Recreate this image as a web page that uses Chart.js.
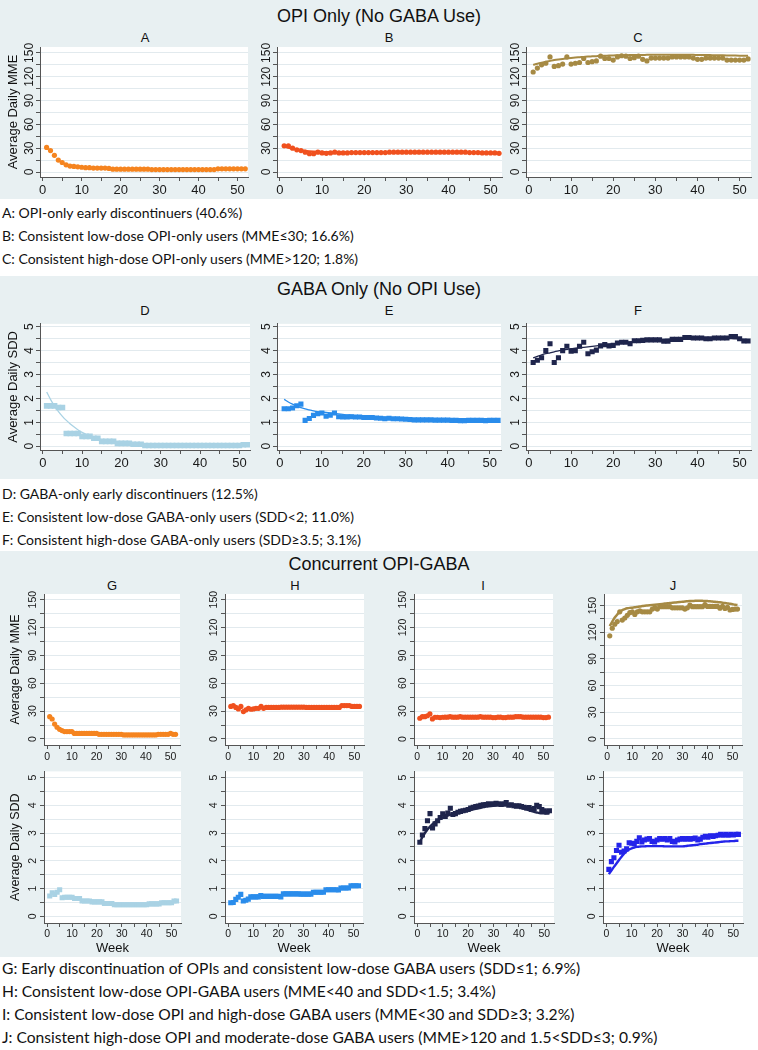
<!DOCTYPE html>
<html><head><meta charset="utf-8">
<script src="https://cdn.jsdelivr.net/npm/chart.js@4.4.1/dist/chart.umd.min.js"></script>
<style>
html,body{margin:0;padding:0}
body{width:758px;height:1050px;position:relative;background:#fff;overflow:hidden;font-family:"Liberation Sans",Arial,sans-serif;color:#111}
.sec{position:absolute;left:0;width:758px;background:#e8f0f2}
.stitle{position:absolute;left:0;width:758px;text-align:center;font-size:18px;line-height:20px;transform:translateY(-50%)}
.plab{position:absolute;font-size:13px;line-height:14px;transform:translate(-50%,-50%)}
.cap{position:absolute;left:2px;font-family:Lato,sans-serif;font-size:14px;line-height:18px;white-space:nowrap;transform:translateY(-50%)}
.cap.big{font-size:15.6px}
canvas{position:absolute}
</style></head><body>
<div class="sec" style="top:0;height:199px"></div>
<div class="sec" style="top:276px;height:203px"></div>
<div class="sec" style="top:551px;height:406px"></div>
<div class="stitle" style="top:16px">OPI Only (No GABA Use)</div>
<div class="stitle" style="top:289px">GABA Only (No OPI Use)</div>
<div class="stitle" style="top:564px">Concurrent OPI-GABA</div>
<div class="plab" style="left:145px;top:38px">A</div>
<div class="plab" style="left:389px;top:38px">B</div>
<div class="plab" style="left:638px;top:38px">C</div>
<div class="plab" style="left:145px;top:311px">D</div>
<div class="plab" style="left:389px;top:311px">E</div>
<div class="plab" style="left:638px;top:311px">F</div>
<div class="plab" style="left:112px;top:586px">G</div>
<div class="plab" style="left:295px;top:586px">H</div>
<div class="plab" style="left:483px;top:586px">I</div>
<div class="plab" style="left:673px;top:586px">J</div>
<div class="cap" style="top:213px">A: OPI-only early discontinuers (40.6%)</div>
<div class="cap" style="top:236px">B: Consistent low-dose OPI-only users (MME≤30; 16.6%)</div>
<div class="cap" style="top:259px">C: Consistent high-dose OPI-only users (MME&gt;120; 1.8%)</div>
<div class="cap" style="top:494px">D: GABA-only early discontinuers (12.5%)</div>
<div class="cap" style="top:517px">E: Consistent low-dose GABA-only users (SDD&lt;2; 11.0%)</div>
<div class="cap" style="top:540px">F: Consistent high-dose GABA-only users (SDD≥3.5; 3.1%)</div>
<div class="cap big" style="top:968px">G: Early discontinuation of OPIs and consistent low-dose GABA users (SDD≤1; 6.9%)</div>
<div class="cap big" style="top:991px">H: Consistent low-dose OPI-GABA users (MME&lt;40 and SDD&lt;1.5; 3.4%)</div>
<div class="cap big" style="top:1014px">I: Consistent low-dose OPI and high-dose GABA users (MME&lt;30 and SDD≥3; 3.2%)</div>
<div class="cap big" style="top:1037px">J: Consistent high-dose OPI and moderate-dose GABA users (MME&gt;120 and 1.5&lt;SDD≤3; 0.9%)</div>
<script>
// ---------- data ----------
const weeks = [1,2,3,4,5,6,7,8,9,10,11,12,13,14,15,16,17,18,19,20,21,22,23,24,25,26,27,28,29,30,31,32,33,34,35,36,37,38,39,40,41,42,43,44,45,46,47,48,49,50,51,52];
const weekTickLabels = [0,10,20,30,40,50];
const mmeTickLabels = [0,30,60,90,120,150];
const sddTickLabels = [0,1,2,3,4,5];

const aMme = [31,27,21,15,12,9,7.5,7,6.5,6, 5.5,5.5,5,5,5,5,4.5,3.5,3.5,3.5, 3.5,3.5,3.5,3.5,3.5,3.5,3.5,3,3,3, 3,3,3,3,3,3,3,3,3,3, 3,3,3,3,4,4,4,4,4,4, 4,4];
const bMme = [33,33,30,28,27,25,23,23,25,24, 23.5,24,25,24,24,24,24.5,24.5,24.5,24.5, 24.5,24.5,24.5,24.5,24.5,25,25,25,25,25, 25,25,25,25,25,25,25,25,25,25, 25,25,25,25,24.5,24.5,24.5,24,24,24, 24,23.5];
const bFit = [32,30.5,29.3,28.3,27.5,26.8,26.3,25.9,25.6,25.4, 25.2,25.1,25,25,25,25,25,25,25,25, 25,25,25,25,25,25,25,25,25,25, 25,25,25,25,25,25,25,25,25,25, 25,25,25,25,24.9,24.8,24.7,24.6,24.5,24.4, 24.3,24.2];
const cMme = [126,131,135,137,145,133,134,136,145,136, 137,138,143,138,139,140,146,143,143,141, 145,146.5,146,143,144,146,142,140,143.5,143.5, 143.5,143.5,143.5,145,145,145,145,145,143.5,142, 142,143.5,143.5,143.5,143.5,143.5,141,141,141,141, 141,142.5];
const cFit = [135,136.5,137.8,139,140,141,141.8,142.5,143.1,143.7, 144.2,144.6,145,145.4,145.7,146,146.3,146.5,146.7,146.9, 147,147.1,147.2,147.3,147.4,147.5,147.5,147.6,147.6,147.6, 147.7,147.7,147.7,147.7,147.7,147.7,147.7,147.6,147.6,147.5, 147.5,147.4,147.3,147.2,147.1,147,146.9,146.8,146.7,146.6, 146.5,146.4];
const dSdd = [1.69,1.69,1.69,1.62,1.62,0.53,0.53,0.53,0.53,0.41, 0.41,0.41,0.33,0.33,0.2,0.2,0.2,0.2,0.12,0.12, 0.12,0.12,0.08,0.08,0.08,0.03,0.03,0.03,0.03,0.03, 0.03,0.03,0.03,0.03,0.03,0.03,0.03,0.03,0.03,0.03, 0.03,0.03,0.03,0.03,0.03,0.03,0.03,0.03,0.03,0.03, 0.06,0.06];
const dFit = [2.27,1.95,1.68,1.45,1.25,1.08,0.93,0.8,0.68,0.58, 0.5,0.43,0.37,0.32,0.27,0.23,0.2,0.17,0.15,0.13, 0.11,0.1,0.08,0.07,0.06,0.05,0.05,0.04,0.04,0.04, 0.04,0.04,0.04,0.04,0.04,0.04,0.04,0.04,0.04,0.04, 0.04,0.04,0.04,0.04,0.04,0.04,0.04,0.04,0.04,0.04, 0.04,0.04];
const eSdd = [1.57,1.57,1.6,1.69,1.76,1.08,1.16,1.29,1.36,1.39, 1.25,1.3,1.39,1.23,1.22,1.22,1.23,1.22,1.22,1.2, 1.2,1.2,1.18,1.17,1.15,1.17,1.15,1.15,1.14,1.13, 1.12,1.1,1.1,1.1,1.1,1.1,1.09,1.09,1.09,1.09, 1.08,1.08,1.07,1.07,1.08,1.08,1.08,1.08,1.07,1.08, 1.08,1.08];
const eFit = [1.96,1.85,1.76,1.68,1.61,1.56,1.52,1.48,1.45,1.43, 1.41,1.39,1.37,1.35,1.33,1.31,1.3,1.28,1.27,1.26, 1.25,1.24,1.23,1.22,1.21,1.2,1.19,1.18,1.17,1.16, 1.15,1.15,1.14,1.13,1.13,1.12,1.12,1.11,1.11,1.1, 1.1,1.1,1.09,1.09,1.09,1.09,1.08,1.08,1.08,1.08, 1.08,1.08];
const fSdd = [3.5,3.6,3.7,4.0,4.29,3.5,3.7,4.0,4.18,3.98, 4.0,4.18,4.35,3.87,3.95,4.02,4.2,4.25,4.2,4.22, 4.32,4.35,4.35,4.29,4.41,4.41,4.43,4.45,4.45,4.45, 4.45,4.39,4.39,4.47,4.47,4.47,4.55,4.55,4.53,4.53, 4.53,4.5,4.5,4.53,4.53,4.53,4.53,4.59,4.59,4.5, 4.4,4.4];
const fFit = [3.7,3.76,3.82,3.87,3.91,3.95,3.99,4.02,4.05,4.08, 4.1,4.12,4.14,4.16,4.18,4.2,4.22,4.24,4.26,4.28, 4.3,4.32,4.34,4.36,4.38,4.4,4.42,4.43,4.44,4.45, 4.46,4.47,4.48,4.49,4.5,4.5,4.51,4.51,4.52,4.52, 4.52,4.52,4.52,4.52,4.51,4.51,4.5,4.5,4.49,4.48, 4.47,4.46];
const gMme = [24,21.5,16,12.6,10.4,9,8,8,8,8, 6,6,6,6,6,6,6,6,6,6, 5,5,5,5,5,5,5,5,5,5, 4.3,4.3,4.3,4.3,4.3,4.3,4.3,4.3,4.3,4.3, 4.3,4.3,4.3,4.3,5,5,5,5,5,6, 5,5];
const hMme = [35,36,34,32.4,35,29.5,31.3,33,32,32.4, 33,33,35,33,34,34,34,34,34,34, 34.2,34.2,34.2,34.2,34.2,34.2,34.2,34.2,34.2,34.2, 34,34,34,34,34,34,34,34,34,34, 34,34,34,34,36,36,36,36,35,35, 35,35];
const iMme = [22.3,24,24,25,27,21.6,23.4,23.4,23,23.4, 23.5,23.5,24,23.5,23.5,23.5,24,23.5,23.5,23.5, 23.5,23.5,23.5,23.5,24,23.5,23.5,23.5,23.5,23, 23,23.5,23.5,23,23,23.5,23.5,23.5,24,24, 24,23.5,23.5,23.5,23.5,23.5,23.5,23.5,23.5,23, 23,23.5];
const jMme = [116,124.5,129,132,143,133.7,136,139,142,143, 140,143,144,143,143,143,143,146,147.5,146, 148.7,148.7,148.7,148.7,148.7,147.5,147.5,147.5,147.5,147.5, 146,147.5,150.5,148.7,148.7,148.7,148.7,148.7,151,149, 149,149,149,149,147,149,146.8,148,145,145.7, 146,146];
const jMmeFit = [127,132,136.5,140,143,144.8,146,146.9,147.4,147.6, 148,148.5,149,149.4,149.8,150.1,150.4,150.7,151,151.3, 151.6,151.9,152.2,152.5,152.8,153.1,153.4,153.7,154,154.3, 154.6,154.8,155,155.2,155.3,155.4,155.4,155.3,155.2,155, 154.8,154.5,154.2,153.9,153.6,153.2,152.8,152.4,152,151.5, 151,150.6];
const gSdd = [0.73,0.85,0.79,0.87,0.96,0.67,0.69,0.69,0.69,0.69, 0.64,0.64,0.64,0.55,0.55,0.55,0.55,0.52,0.52,0.52, 0.52,0.52,0.46,0.46,0.46,0.46,0.42,0.42,0.42,0.42, 0.42,0.42,0.42,0.42,0.42,0.42,0.42,0.42,0.42,0.42, 0.45,0.45,0.45,0.45,0.45,0.49,0.49,0.49,0.49,0.49, 0.55,0.55];
const hSdd = [0.49,0.5,0.61,0.69,0.79,0.55,0.58,0.62,0.7,0.7, 0.7,0.7,0.75,0.72,0.72,0.72,0.72,0.72,0.72,0.72, 0.7,0.81,0.81,0.81,0.81,0.81,0.81,0.81,0.8,0.8, 0.8,0.8,0.8,0.87,0.87,0.87,0.87,0.87,0.96,0.96, 0.96,0.96,0.96,0.95,1.02,1.02,1.02,1.02,1.1,1.1, 1.1,1.1];
const iSdd = [2.67,2.93,3.16,3.44,3.7,3.18,3.33,3.44,3.56,3.69, 3.6,3.72,3.89,3.67,3.7,3.75,3.78,3.8,3.82,3.85, 3.9,3.93,3.95,3.97,4.0,4.02,4.03,4.05,4.03,4.05, 4.07,4.05,4.03,4.05,4.1,4.0,4.02,3.98,3.97,3.98, 3.95,3.93,3.9,3.92,3.85,3.88,4.0,3.95,3.85,3.8, 3.75,3.8];
const iSddFit = [2.67,2.85,3.0,3.13,3.23,3.32,3.4,3.46,3.52,3.56, 3.6,3.63,3.66,3.69,3.71,3.73,3.75,3.77,3.79,3.81, 3.83,3.85,3.87,3.89,3.91,3.93,3.95,3.96,3.97,3.98, 3.99,4.0,4.0,4.0,4.0,3.99,3.98,3.97,3.95,3.93, 3.91,3.88,3.85,3.82,3.79,3.76,3.74,3.72,3.71,3.71, 3.72,3.73];
const jSdd = [1.69,1.97,2.11,2.37,2.56,2.31,2.35,2.43,2.65,2.63, 2.62,2.7,2.83,2.68,2.75,2.78,2.8,2.7,2.68,2.75, 2.8,2.78,2.8,2.75,2.8,2.7,2.68,2.75,2.78,2.8, 2.78,2.8,2.78,2.8,2.82,2.75,2.78,2.85,2.88,2.85, 2.9,2.88,2.9,2.92,2.95,2.92,2.95,2.92,2.95,2.93, 2.95,2.95];
const jSddFit = [1.52,1.65,1.78,1.9,2.03,2.15,2.26,2.35,2.41,2.45, 2.48,2.5,2.51,2.52,2.52,2.53,2.53,2.53,2.53,2.53, 2.53,2.53,2.52,2.52,2.52,2.52,2.52,2.52,2.52,2.52, 2.53,2.54,2.55,2.56,2.57,2.58,2.6,2.61,2.62,2.63, 2.64,2.65,2.66,2.67,2.68,2.69,2.7,2.7,2.71,2.71, 2.72,2.72];

// ---------- styles ----------
const ORANGE = '#f5841f', RED = '#f0501e', KHAKI = '#a68a44', LBLUE = '#a9d2e4', BLUE = '#2a8ceb', NAVY = '#1f254c', BBLUE = '#2424ea';
const FONT = '"Liberation Sans", Arial, sans-serif';
const mctx = document.createElement('canvas').getContext('2d');

const plotBg = {id:'plotBg', beforeDraw(chart){const {ctx, chartArea:a} = chart; ctx.save(); ctx.fillStyle = '#fff'; ctx.fillRect(a.left, a.top, a.right - a.left, a.bottom - a.top); ctx.restore();}};

function xy(arr){ return weeks.map((w, i) => ({x: w, y: arr[i]})); }

function panel(p) {
  const padTop = 6, padRight = 5;
  const w = p.yw + (p.pr - p.pl) + padRight;
  const h = padTop + (p.pb - p.pt) + p.xh;
  const c = document.createElement('canvas');
  c.width = w; c.height = h;
  c.style.left = (p.pl - p.yw) + 'px'; c.style.top = (p.pt - padTop) + 'px';
  c.style.width = w + 'px'; c.style.height = h + 'px';
  document.body.appendChild(c);
  const isMme = p.kind === 'mme';
  const yLabels = isMme ? mmeTickLabels : sddTickLabels;
  const yFont = p.small ? 10.5 : 12;
  const xFont = p.small ? 10.5 : 13;
  mctx.font = yFont + 'px ' + FONT;
  const widest = Math.max(...yLabels.map(t => mctx.measureText(String(t)).width));
  const yPad = p.ygap - 4 - widest / 2;
  const datasets = p.series.map(s => s.line ? {
      data: xy(s.data), showLine: true, pointRadius: 0, borderColor: s.color, borderWidth: s.w,
      cubicInterpolationMode: 'monotone', fill: false
    } : {
      data: xy(s.data), showLine: false, pointStyle: s.square ? 'rect' : 'circle', pointRadius: s.r,
      backgroundColor: s.color, borderColor: s.color, pointBorderWidth: 0
    });
  new Chart(c, {
    type: 'scatter',
    data: {datasets},
    options: {
      responsive: false, animation: false, devicePixelRatio: 1,
      layout: {padding: {top: padTop, right: padRight, left: 0, bottom: 0}},
      plugins: {legend: {display: false}, tooltip: {enabled: false}},
      scales: {
        x: {
          type: 'linear', min: p.xmin, max: p.xmax,
          afterFit: s => { s.height = p.xh; },
          ticks: {stepSize: 5, includeBounds: false, autoSkip: false, maxRotation: 0, minRotation: 0,
            padding: p.xpad, font: {family: FONT, size: xFont}, color: '#1a1a1a',
            callback: v => weekTickLabels.includes(v) ? String(v) : ''},
          grid: {drawOnChartArea: false, drawTicks: true, tickLength: 4, tickColor: '#555'},
          border: {display: true, color: '#555', width: 1},
          title: p.xtitle ? {display: true, text: p.xtitle, font: {family: FONT, size: 13}, color: '#111', padding: {top: 0, bottom: 0}} : {display: false}
        },
        y: {
          type: 'linear', min: p.ymin, max: p.ymax,
          afterFit: s => { s.width = p.yw; },
          ticks: {stepSize: isMme ? 15 : 0.5, includeBounds: false, autoSkip: false, minRotation: 90, maxRotation: 90,
            crossAlign: 'center', padding: yPad, font: {family: FONT, size: yFont}, color: '#1a1a1a',
            callback: v => yLabels.some(t => Math.abs(t - v) < 1e-6) ? String(Math.round(v)) : ''},
          grid: {color: '#e2eaee', lineWidth: 1, drawTicks: true, tickLength: 4, tickColor: '#555'},
          border: {display: true, color: '#555', width: 1},
          title: p.ytitle ? {display: true, text: p.ytitle, font: {family: FONT, size: p.small ? 12.5 : 13}, color: '#111', padding: {top: p.ytpad, bottom: 0}} : {display: false}
        }
      }
    },
    plugins: [plotBg]
  });
}

// ---------- section 1 ----------
const s1 = {pt: 47, pb: 177, xh: 24, xpad: 2, xmin: -0.7, xmax: 52.7, kind: 'mme', ymin: -6.3, ymax: 157.5, ygap: 10};
panel({...s1, pl: 40, pr: 248, yw: 40, ytitle: 'Average Daily MME', ytpad: 6,
  series: [{data: aMme, color: ORANGE, r: 2.6}]});
panel({...s1, pl: 277, pr: 502, yw: 30,
  series: [{data: bFit, color: RED, line: true, w: 2}, {data: bMme, color: RED, r: 2.6}]});
panel({...s1, pl: 526, pr: 751, yw: 30,
  series: [{data: cFit, color: KHAKI, line: true, w: 2}, {data: cMme, color: KHAKI, r: 2.6}]});

// ---------- section 2 ----------
const s2 = {pt: 320, pb: 450, xh: 22, xpad: 2, xmin: -0.7, xmax: 52.7, kind: 'sdd', ymin: -0.16, ymax: 5.12, ygap: 10};
panel({...s2, pl: 40, pr: 250, yw: 40, ytitle: 'Average Daily SDD', ytpad: 6,
  series: [{data: dFit, color: LBLUE, line: true, w: 1.3}, {data: dSdd, color: LBLUE, r: 4, square: true}]});
panel({...s2, pl: 277, pr: 501, yw: 30,
  series: [{data: eFit, color: BLUE, line: true, w: 1.3}, {data: eSdd, color: BLUE, r: 3.6, square: true}]});
panel({...s2, pl: 526, pr: 751, yw: 30,
  series: [{data: fFit, color: NAVY, line: true, w: 1.3}, {data: fSdd, color: NAVY, r: 3.6, square: true}]});

// ---------- section 3 top (MME) ----------
const s3t = {pt: 594, pb: 745, xh: 18, xpad: 2, xmin: -1.3, xmax: 53.8, kind: 'mme', ymin: -6.5, ymax: 156.1, ygap: 11, small: true};
panel({...s3t, pl: 44, pr: 180, yw: 44, ytitle: 'Average Daily MME', ytpad: 8,
  series: [{data: gMme, color: ORANGE, r: 2.6}]});
panel({...s3t, pl: 225, pr: 364, yw: 34,
  series: [{data: hMme, color: RED, r: 2.6}]});
panel({...s3t, pl: 414, pr: 553, yw: 34,
  series: [{data: iMme, color: RED, r: 2.6}]});
panel({...s3t, pl: 604, pr: 742, yw: 34, ymin: -6.75, ymax: 163,
  series: [{data: jMmeFit, color: KHAKI, line: true, w: 2.5}, {data: jMme, color: KHAKI, r: 2.6}]});

// ---------- section 3 bottom (SDD) ----------
const s3b = {pt: 767, pb: 923, xh: 33, xpad: 1, xmin: -1.3, xmax: 53.8, kind: 'sdd', ymin: -0.24, ymax: 5.22, ygap: 11, small: true, xtitle: 'Week'};
panel({...s3b, pl: 44, pr: 181, yw: 44, ytitle: 'Average Daily SDD', ytpad: 8,
  series: [{data: gSdd, color: LBLUE, r: 3.6, square: true}]});
panel({...s3b, pl: 225, pr: 363, yw: 34,
  series: [{data: hSdd, color: BLUE, r: 3.6, square: true}]});
panel({...s3b, pl: 414, pr: 554, yw: 34,
  series: [{data: iSddFit, color: NAVY, line: true, w: 2.4}, {data: iSdd, color: NAVY, r: 3.6, square: true}]});
panel({...s3b, pl: 603, pr: 743, yw: 34,
  series: [{data: jSddFit, color: BBLUE, line: true, w: 2.4}, {data: jSdd, color: BBLUE, r: 3.6, square: true}]});
</script>
</body></html>
